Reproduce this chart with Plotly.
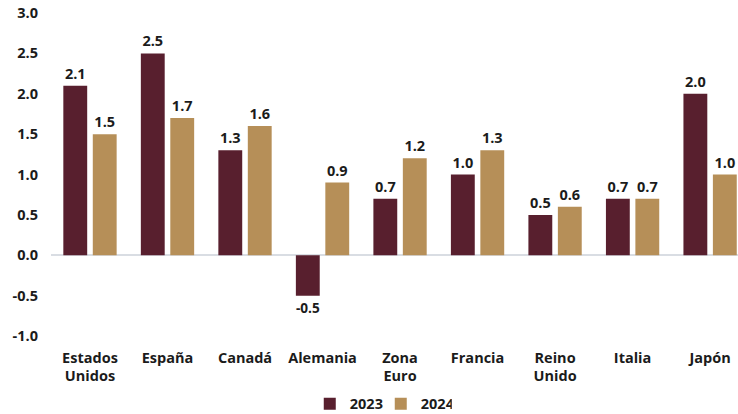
import plotly.graph_objects as go

categories = ["Estados<br>Unidos", "España", "Canadá", "Alemania", "Zona<br>Euro",
              "Francia", "Reino<br>Unido", "Italia", "Japón"]
v2023 = [2.1, 2.5, 1.3, -0.5, 0.7, 1.0, 0.5, 0.7, 2.0]
v2024 = [1.5, 1.7, 1.6, 0.9, 1.2, 1.3, 0.6, 0.7, 1.0]
y_ticks = [3.0, 2.5, 2.0, 1.5, 1.0, 0.5, 0.0, -0.5, -1.0]

c23 = "#581F2E"
c24 = "#B68F58"
txt = "#1b1b1b"
font_fam = "Open Sans, Lato, DejaVu Sans, sans-serif"

fig = go.Figure()
for name, vals, col in [("2023", v2023, c23), ("2024", v2024, c24)]:
    fig.add_trace(go.Bar(
        x=categories, y=vals, name=name, marker_color=col,
        marker_line_width=0,
        text=[f"{v:.1f}" for v in vals], textposition="outside",
        textfont=dict(size=14.5, color=txt, family=font_fam, weight="bold"),
        cliponaxis=False,
    ))

fig.update_layout(
    width=738, height=414,
    margin=dict(l=51, r=0, t=13, b=78, autoexpand=False),
    paper_bgcolor="white", plot_bgcolor="white",
    barmode="group", bargap=0.24, bargroupgap=0.19,
    font=dict(family=font_fam, size=14.5, color=txt, weight="bold"),
    showlegend=True,
    legend=dict(orientation="h", x=0.48, xanchor="center", y=-0.21, yanchor="middle",
                font=dict(size=14.5, color=txt, family=font_fam, weight="bold"),
                itemwidth=30, traceorder="normal",
                entrywidth=26, entrywidthmode="pixels"),
    xaxis=dict(range=[-0.503, 8.36], showline=False, showgrid=False, ticks="",
               ticklabelstandoff=11,
               tickfont=dict(size=14.5, color=txt, family=font_fam, weight="bold"),
               zeroline=False),
    yaxis=dict(range=[-1.0, 3.0], tickvals=y_ticks, ticktext=[f"{t:.1f}" for t in y_ticks],
               showgrid=False, zeroline=True, zerolinecolor="#d9dde3", zerolinewidth=1.5,
               showline=False, ticks="", ticklabelstandoff=12,
               tickfont=dict(size=14.5, color=txt, family=font_fam, weight="bold")),
)

fig.write_html("out.html")
